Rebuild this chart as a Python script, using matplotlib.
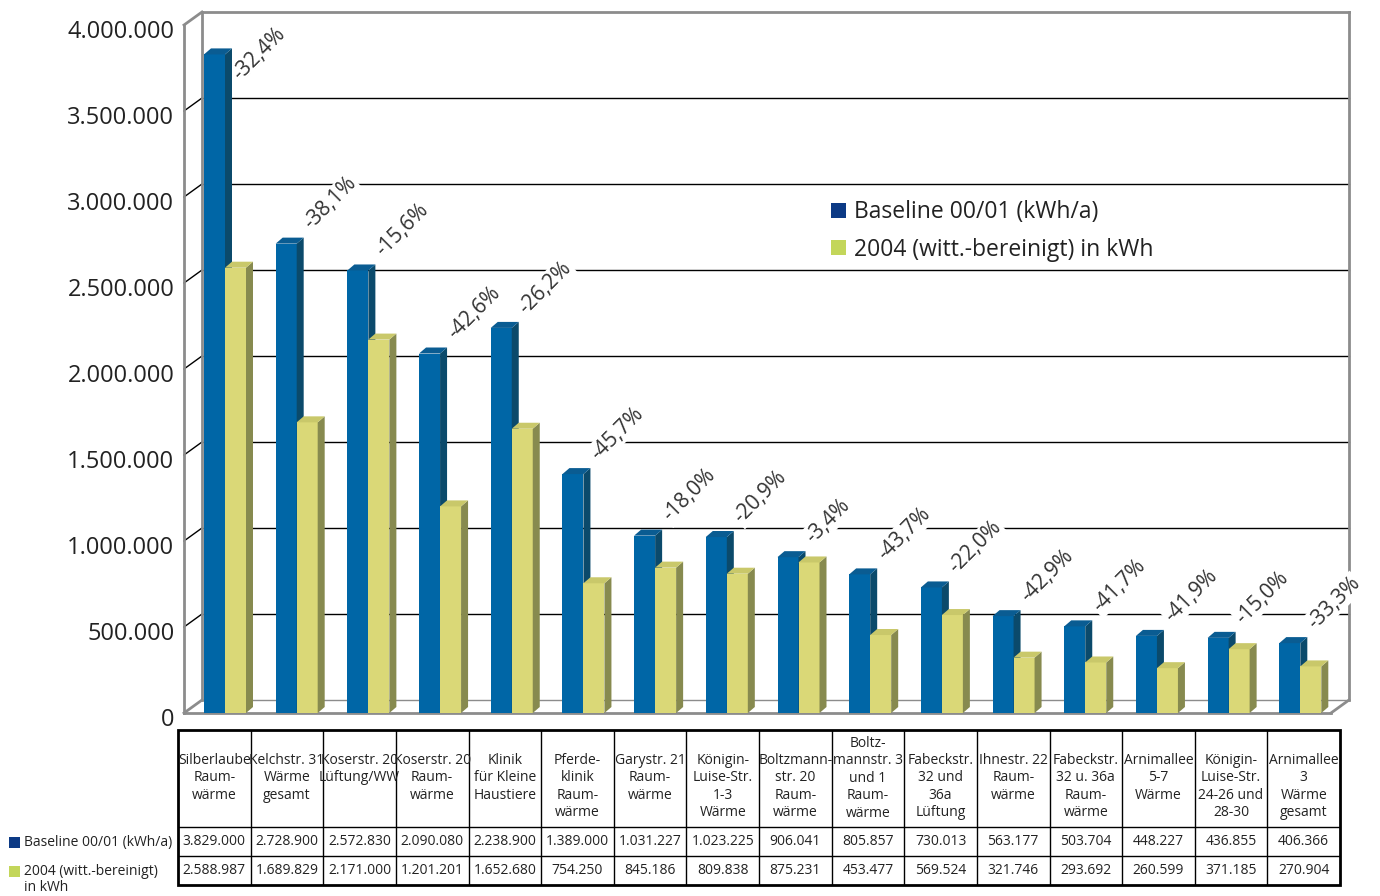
import numpy as np
import matplotlib
matplotlib.use("Agg")
import matplotlib.pyplot as plt
import matplotlib.transforms as mtransforms
from matplotlib.patches import Rectangle, Polygon, Patch

plt.rcParams['font.family'] = ['Open Sans', 'DejaVu Sans']

# === DATA ===
sites = [
    "Silberlaube\nRaum-\nwärme", "Kelchstr. 31\nWärme\ngesamt", "Koserstr. 20\nLüftung/WW",
    "Koserstr. 20\nRaum-\nwärme", "Klinik\nfür Kleine\nHaustiere", "Pferde-\nklinik\nRaum-\nwärme",
    "Garystr. 21\nRaum-\nwärme", "Königin-\nLuise-Str.\n1-3\nWärme", "Boltzmann-\nstr. 20\nRaum-\nwärme",
    "Boltz-\nmannstr. 3\nund 1\nRaum-\nwärme", "Fabeckstr.\n32 und\n36a\nLüftung",
    "Ihnestr. 22\nRaum-\nwärme", "Fabeckstr.\n32 u. 36a\nRaum-\nwärme", "Arnimallee\n5-7\nWärme",
    "Königin-\nLuise-Str.\n24-26 und\n28-30", "Arnimallee\n3\nWärme\ngesamt",
]
baseline = [3829000, 2728900, 2572830, 2090080, 2238900, 1389000, 1031227, 1023225,
            906041, 805857, 730013, 563177, 503704, 448227, 436855, 406366]
year2004 = [2588987, 1689829, 2171000, 1201201, 1652680, 754250, 845186, 809838,
            875231, 453477, 569524, 321746, 293692, 260599, 371185, 270904]
change_pct = ["-32,4%", "-38,1%", "-15,6%", "-42,6%", "-26,2%", "-45,7%", "-18,0%", "-20,9%",
              "-3,4%", "-43,7%", "-22,0%", "-42,9%", "-41,7%", "-41,9%", "-15,0%", "-33,3%"]
series_names = ["Baseline 00/01 (kWh/a)", "2004 (witt.-bereinigt) in kWh"]
y_ticks = [0, 500000, 1000000, 1500000, 2000000, 2500000, 3000000, 3500000, 4000000]


def de_num(v):
    return f"{v:,.0f}".replace(",", ".")


# === LAYOUT (pixels) ===
W, H = 1380, 896
L, R, T, B = 184, 1331, 25, 713

fig = plt.figure(figsize=(W / 100, H / 100), dpi=100)
ax = fig.add_axes([L / W, 1 - B / H, (R - L) / W, (B - T) / H])
n = len(baseline)
ax.set_xlim(-0.5, n - 0.5)
ax.set_ylim(0, 4000000)
for s in ax.spines.values():
    s.set_visible(False)
ax.set_facecolor("none")
ax.set_xticks([])
ax.set_yticks(y_ticks)
ax.set_yticklabels([de_num(v) for v in y_ticks])
ax.tick_params(axis="y", length=0, pad=7, labelsize=17, labelcolor="#222222")
shift = mtransforms.Affine2D().translate(0, -4)
for lab in ax.get_yticklabels():
    lab.set_transform(lab.get_transform() + shift)

px_x = n / (R - L)
px_y = 4000000 / (B - T)
bx, by = 18 * px_x, 13 * px_y      # depth of back wall
bw = 21 * px_x                      # bar width
sx, sy = 7 * px_x, 6 * px_y         # bar depth

x_lo, x_hi, y_top = -0.5, n - 0.5, 4000000
frame = dict(color="#8c8c8c", lw=2, clip_on=False, zorder=1)

# gridlines on the back wall and the left wall
for v in y_ticks[1:-1]:
    ax.plot([x_lo + bx, x_hi + bx], [v + by, v + by], color="black", lw=1, clip_on=False, zorder=1)
    ax.plot([x_lo, x_lo + bx], [v, v + by], color="black", lw=1, clip_on=False, zorder=1)

# walls / floor outline
ax.plot([x_lo, x_lo], [0, y_top], **frame)
ax.plot([x_lo, x_lo + bx], [y_top, y_top + by], **frame)
ax.plot([x_lo + bx, x_lo + bx], [by, y_top + by], **frame)
ax.plot([x_lo + bx, x_hi + bx], [y_top + by, y_top + by], **frame)
ax.plot([x_hi + bx, x_hi + bx], [by, y_top + by], **frame)
ax.plot([x_lo, x_hi], [0, 0], **frame)
ax.plot([x_lo + bx, x_hi + bx], [by, by], color="#8c8c8c", lw=1, clip_on=False, zorder=1)
ax.plot([x_lo, x_lo + bx], [0, by], **frame)
ax.plot([x_hi, x_hi + bx], [0, by], **frame)


def bar3d(x0, v, front, side, top):
    ax.add_patch(Rectangle((x0, 0), bw, v, fc=front, ec="none", zorder=3))
    ax.add_patch(Polygon([(x0 + bw, 0), (x0 + bw + sx, sy), (x0 + bw + sx, v + sy), (x0 + bw, v)],
                         fc=side, ec="none", zorder=3))
    ax.add_patch(Polygon([(x0, v), (x0 + sx, v + sy), (x0 + bw + sx, v + sy), (x0 + bw, v)],
                         fc=top, ec="none", zorder=3))


for i in range(n):
    x0 = i - 0.5 + 20 * px_x
    bar3d(x0, baseline[i], "#0066a6", "#0b4a6b", "#0a5c92")
    bar3d(x0 + bw, year2004[i], "#dad877", "#878a4f", "#c9c86a")
    # labels sit above the gridlines but behind the bars
    ax.annotate(change_pct[i], xy=(x0 + bw + sx, min(baseline[i], 3600000)),
                xytext=(8, 7), textcoords="offset points", rotation=45, rotation_mode="anchor",
                ha="left", va="bottom", fontsize=15, color="#333333", zorder=2,
                bbox=dict(fc="white", ec="none", pad=1))

handles = [Patch(fc="#0c3a85", ec="none"), Patch(fc="#c3d65a", ec="none")]
ax.legend(handles, series_names, loc="upper left", bbox_to_anchor=(820 / W, 1 - 189 / H),
          bbox_transform=fig.transFigure, frameon=False, fontsize=16.5, handlelength=0.65,
          handleheight=0.65, handletextpad=0.35, labelspacing=0.58, borderpad=0,
          labelcolor="#222222")

# === DATA TABLE ===
axt = fig.add_axes([178 / W, 1 - 885 / H, 1162 / W, 155 / H])
axt.set_xlim(0, n)
axt.set_ylim(885, 730)
axt.axis("off")
axt.add_patch(Rectangle((0, 730), n, 155, fill=False, ec="black", lw=2, clip_on=False))
for i in range(1, n):
    axt.plot([i, i], [730, 885], color="black", lw=1)
for yy in (827, 856):
    axt.plot([0, n], [yy, yy], color="black", lw=1)

for i, name in enumerate(sites):
    lines = name.split("\n")
    start = min(760, 813 - (len(lines) - 1) * 17.5)
    for k, ln in enumerate(lines):
        axt.text(i + 0.5, start + k * 17.5, ln, ha="center", va="center", fontsize=10, color="#222222")
    axt.text(i + 0.5, 841.5, de_num(baseline[i]), ha="center", va="center", fontsize=10, color="#222222")
    axt.text(i + 0.5, 870.5, de_num(year2004[i]), ha="center", va="center", fontsize=10, color="#222222")

# row labels left of the table
fig.add_artist(Rectangle((9 / W, 1 - 848 / H), 11 / W, 11 / H, fc="#0c3a85", ec="none",
                         transform=fig.transFigure))
fig.text(24 / W, 1 - 842 / H, series_names[0], ha="left", va="center", fontsize=10, color="#222222")
fig.add_artist(Rectangle((9 / W, 1 - 877 / H), 11 / W, 11 / H, fc="#c3d65a", ec="none",
                         transform=fig.transFigure))
fig.text(24 / W, 1 - 871 / H, "2004 (witt.-bereinigt)", ha="left", va="center", fontsize=10, color="#222222")
fig.text(24 / W, 1 - 887 / H, "in kWh", ha="left", va="center", fontsize=10, color="#222222")

fig.savefig("out.png", dpi=100, facecolor="white")
